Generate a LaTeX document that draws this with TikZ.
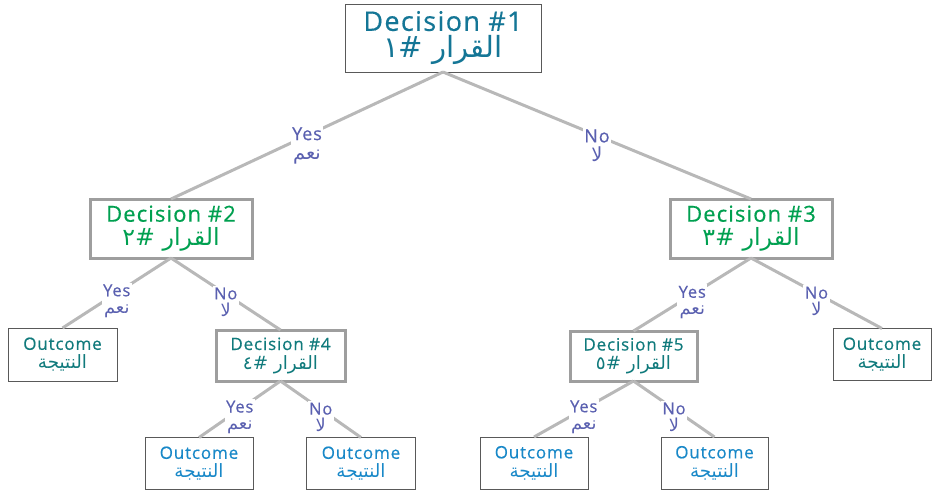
\documentclass[tikz,border=0pt]{standalone}
\usepackage{fontspec}
\setmainfont{Open Sans}[LetterSpace=5, FakeBold=0.5]
\newfontfamily\arabicfont[Script=Arabic, Scale=1.08]{DejaVu Sans}
\TeXXeTstate=1
\newcommand{\artxt}[1]{{\arabicfont\beginR #1\endR}}
\definecolor{topblue}{RGB}{20,118,150}
\definecolor{decgreen}{RGB}{0,160,80}
\definecolor{decteal}{RGB}{16,122,124}
\definecolor{outblue}{RGB}{24,136,200}
\definecolor{answercol}{RGB}{90,96,176}

\begin{document}
\begin{tikzpicture}[x=1pt, y=-1pt,
  every node/.style={align=center, inner sep=0pt, outer sep=0pt},
  decision/.style={draw=black!38, line width=3pt, fill=white},
  outcome/.style={draw=black!65, line width=1pt, fill=white},
  branch/.style={draw=black!28, line width=3pt},
  answer/.style={fill=white, text=answercol, inner sep=1.5pt, font=\fontsize{16.5}{17}\selectfont}]
\useasboundingbox (0,0) rectangle (933,493);

% decisions
\node[outcome, minimum width=196, minimum height=68, text=topblue, font=\fontsize{27}{27}\selectfont] (d1) at (443,38) {Decision \#1\\\artxt{القرار \#\kern0pt ١}};
\node[decision, minimum width=162, minimum height=59, text=decgreen, font=\fontsize{22}{24}\selectfont] (d2) at (171,228.5) {Decision \#2\\\artxt{القرار \#\kern0pt ٢}};
\node[decision, minimum width=162, minimum height=59, text=decgreen, font=\fontsize{22}{24}\selectfont] (d3) at (751,228.5) {Decision \#3\\\artxt{القرار \#\kern0pt ٣}};
\node[decision, minimum width=129, minimum height=51, text=decteal, font=\fontsize{17}{19}\selectfont] (d4) at (280.5,355.5) {Decision \#4\\\artxt{القرار \#\kern0pt ٤}};
\node[decision, minimum width=127, minimum height=50, text=decteal, font=\fontsize{17}{19}\selectfont] (d5) at (633.5,356) {Decision \#5\\\artxt{القرار \#\kern0pt ٥}};

% outcomes
\node[outcome, minimum width=109, minimum height=53, text=decteal, font=\fontsize{17}{19}\selectfont] (o1) at (62.5,354.5) {Outcome\\\artxt{النتيجة}};
\node[outcome, minimum width=98, minimum height=52, text=decteal, font=\fontsize{17}{19}\selectfont] (o2) at (882,354.5) {Outcome\\\artxt{النتيجة}};
\node[outcome, minimum width=108, minimum height=52, text=outblue, font=\fontsize{17}{19}\selectfont] (o3) at (199,463.5) {Outcome\\\artxt{النتيجة}};
\node[outcome, minimum width=109, minimum height=52, text=outblue, font=\fontsize{17}{19}\selectfont] (o4) at (361,463.5) {Outcome\\\artxt{النتيجة}};
\node[outcome, minimum width=108, minimum height=52, text=outblue, font=\fontsize{17}{19}\selectfont] (o5) at (534,463) {Outcome\\\artxt{النتيجة}};
\node[outcome, minimum width=107, minimum height=52, text=outblue, font=\fontsize{17}{19}\selectfont] (o6) at (714.5,463) {Outcome\\\artxt{النتيجة}};

% branches
\draw[branch] (d1.south) -- node[answer, yshift=-10pt, font=\fontsize{18}{19}\selectfont] (a1) {Yes\\\artxt{نعم}} (d2.north);
\draw[branch] (d1.south) -- node[answer, yshift=-10pt, font=\fontsize{18}{19}\selectfont] (a2) {No\\\artxt{لا}} (d3.north);
\draw[branch] (d2.south) -- node[answer, yshift=-8pt] (a3) {Yes\\\artxt{نعم}} (o1.north);
\draw[branch] (d2.south) -- node[answer, yshift=-8pt] (a4) {No\\\artxt{لا}} (d4.north);
\draw[branch] (d3.south) -- node[answer, yshift=-8pt] (a5) {Yes\\\artxt{نعم}} (d5.north);
\draw[branch] (d3.south) -- node[answer, yshift=-8pt] (a6) {No\\\artxt{لا}} (o2.north);
\draw[branch] (d4.south) -- node[answer, yshift=-8pt] (a7) {Yes\\\artxt{نعم}} (o3.north);
\draw[branch] (d4.south) -- node[answer, yshift=-8pt] (a8) {No\\\artxt{لا}} (o4.north);
\draw[branch] (d5.south) -- node[answer, yshift=-8pt] (a9) {Yes\\\artxt{نعم}} (o5.north);
\draw[branch] (d5.south) -- node[answer, yshift=-8pt] (a10) {No\\\artxt{لا}} (o6.north);
\end{tikzpicture}
\end{document}
